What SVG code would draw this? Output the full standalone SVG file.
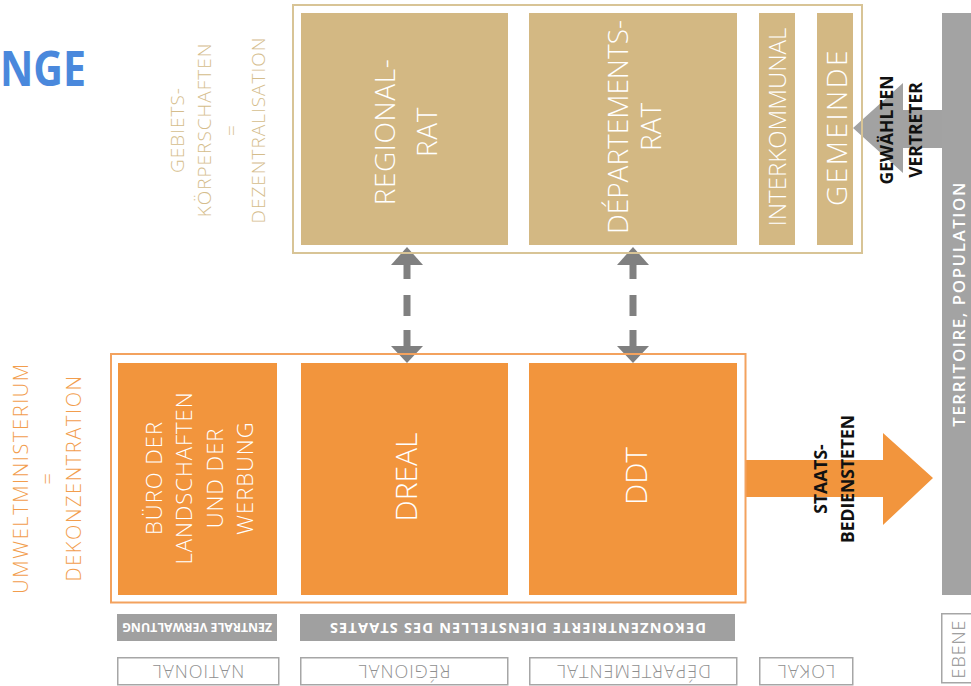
<svg xmlns="http://www.w3.org/2000/svg" width="971" height="686" viewBox="0 0 971 686">
<style>
text{font-family:"Open Sans","Liberation Sans",sans-serif}
.tan{fill:#d3b883}
.org{fill:#f2953d}
.lt{font-weight:300}
.wt{fill:#ffffff}
.bk{fill:#111111;font-weight:700;font-size:17.5px}
.gtxt{fill:#8f8f8f;font-weight:300;font-size:18px;letter-spacing:1px}
.gbox{fill:#ffffff;stroke:#a6a6a6;stroke-width:1.5}
.glab{fill:#a0a0a0}
.arr{fill:#808080}
</style>
<text x="0" y="86" font-size="48" font-weight="700" fill="#4a88dc" textLength="86" lengthAdjust="spacingAndGlyphs">NGE</text>

<g id="gebiets-label">
<text transform="translate(183.8,130) rotate(-90)" text-anchor="middle" font-size="19" letter-spacing="1" class="lt" fill="#d5bd8c"><tspan x="0" dy="0">GEBIETS-</tspan><tspan x="0" dy="27">KÖRPERSCHAFTEN</tspan><tspan x="0" dy="27">=</tspan><tspan x="0" dy="27">DEZENTRALISATION</tspan></text>
</g>
<g id="umwelt-label">
<text transform="translate(28,478) rotate(-90)" text-anchor="middle" font-size="20" letter-spacing="1.6" class="lt" fill="#f29d4d"><tspan x="0" dy="0">UMWELTMINISTERIUM</tspan><tspan x="0" dy="26.5">=</tspan><tspan x="0" dy="26.5">DEKONZENTRATION</tspan></text>
</g>

<g id="connectors">
<polygon points="853,128 903,83 903,110 942,110 942,148 903,148 903,173" fill="#a2a2a2"/>
<polygon points="745,460 883,460 883,433 933,478 883,525 883,497 745,497" class="org"/>
<g class="arr">
<polygon points="407,247 423,265 391,265"/>
<rect x="403.5" y="264" width="7" height="15"/>
<rect x="403.5" y="295" width="7" height="21"/>
<rect x="403.5" y="330" width="7" height="17"/>
<polygon points="407,363 423,346 391,346"/>
<polygon points="633,247 649,265 617,265"/>
<rect x="629.5" y="264" width="7" height="15"/>
<rect x="629.5" y="295" width="7" height="21"/>
<rect x="629.5" y="330" width="7" height="17"/>
<polygon points="633,363 649,346 617,346"/>
</g>
</g>

<g id="collectivites">
<rect x="293" y="5" width="569" height="248" fill="none" stroke="#d8c496" stroke-width="2"/>
</g>
<g id="regionalrat">
<rect x="301" y="13" width="207" height="232" class="tan"/>
<text transform="translate(395,132) rotate(-90)" text-anchor="middle" font-size="28" letter-spacing="0.6" class="lt wt"><tspan x="0" dy="0">REGIONAL-</tspan><tspan x="0" dy="42">RAT</tspan></text>
</g>
<g id="departementsrat">
<rect x="529" y="13" width="208" height="232" class="tan"/>
<text transform="translate(628,127) rotate(-90)" text-anchor="middle" font-size="28" class="lt wt"><tspan x="0" dy="0">DÉPARTEMENTS-</tspan><tspan x="0" dy="33">RAT</tspan></text>
</g>
<g id="interkommunal">
<rect x="759" y="13" width="36" height="232" class="tan"/>
<text transform="translate(785.6,127) rotate(-90)" text-anchor="middle" font-size="24" class="lt wt">INTERKOMMUNAL</text>
</g>
<g id="gemeinde">
<rect x="817" y="13" width="36" height="232" class="tan"/>
<text transform="translate(847,127) rotate(-90)" text-anchor="middle" font-size="28" letter-spacing="2.5" class="lt wt">GEMEINDE</text>
</g>
<g id="gewaehlten-label">
<text transform="translate(893,130) rotate(-90)" text-anchor="middle" class="bk"><tspan x="0" dy="0">GEWÄHLTEN</tspan><tspan x="0" dy="29">VERTRETER</tspan></text>
</g>

<g id="territoire">
<rect x="942" y="13" width="32" height="582" fill="#a3a3a3"/>
<text transform="translate(965,304) rotate(-90)" text-anchor="middle" font-size="17" font-weight="600" letter-spacing="1.5" class="wt">TERRITOIRE, POPULATION</text>
</g>

<g id="ministerium">
<rect x="111" y="354" width="634.5" height="248.5" fill="none" stroke="#f3a25e" stroke-width="2"/>
</g>
<g id="buero">
<rect x="118" y="363" width="159" height="232" class="org"/>
<text transform="translate(162,478) rotate(-90)" text-anchor="middle" font-size="22" letter-spacing="1" class="lt wt"><tspan x="0" dy="0">BÜRO DER</tspan><tspan x="0" dy="30.3">LANDSCHAFTEN</tspan><tspan x="0" dy="30.3">UND DER</tspan><tspan x="0" dy="30.3">WERBUNG</tspan></text>
</g>
<g id="dreal">
<rect x="301" y="363" width="207" height="232" class="org"/>
<text transform="translate(416.7,477) rotate(-90)" text-anchor="middle" font-size="30" class="lt wt">DREAL</text>
</g>
<g id="ddt">
<rect x="529" y="363" width="208" height="232" class="org"/>
<text transform="translate(646.7,476) rotate(-90)" text-anchor="middle" font-size="30" class="lt wt">DDT</text>
</g>
<g id="staats-label">
<text transform="translate(827,479) rotate(-90)" text-anchor="middle" class="bk"><tspan x="0" dy="0">STAATS-</tspan><tspan x="0" dy="27">BEDIENSTETEN</tspan></text>
</g>

<g id="zentrale">
<rect x="117" y="614" width="160" height="27" class="glab"/>
<text transform="translate(197,627.5) rotate(180)" y="4.6" text-anchor="middle" font-size="13" font-weight="700" textLength="150" lengthAdjust="spacingAndGlyphs" class="wt">ZENTRALE VERWALTUNG</text>
</g>
<g id="dekonz">
<rect x="300" y="614" width="435" height="27" class="glab"/>
<text transform="translate(518,627.5) rotate(180)" y="5" text-anchor="middle" font-size="14.5" font-weight="700" textLength="376" lengthAdjust="spacing" class="wt">DEKONZENTRIERTE DIENSTELLEN DES STAATES</text>
</g>

<g id="national">
<rect x="117.75" y="657.75" width="161" height="27" class="gbox"/>
<text transform="translate(198,671) rotate(180)" y="6.4" text-anchor="middle" class="gtxt">NATIONAL</text>
</g>
<g id="regional">
<rect x="300.75" y="657.75" width="207" height="27" class="gbox"/>
<text transform="translate(404,671) rotate(180)" y="6.4" text-anchor="middle" class="gtxt">RÉGIONAL</text>
</g>
<g id="departemental">
<rect x="529.75" y="657.75" width="207" height="27" class="gbox"/>
<text transform="translate(633.5,671) rotate(180)" y="6.4" text-anchor="middle" class="gtxt">DÉPARTEMENTAL</text>
</g>
<g id="lokal">
<rect x="759.75" y="657.75" width="93" height="27" class="gbox"/>
<text transform="translate(806,671) rotate(180)" y="6.4" text-anchor="middle" class="gtxt">LOKAL</text>
</g>
<g id="ebene">
<rect x="941.75" y="613.75" width="40" height="69" class="gbox"/>
<text transform="translate(965,649) rotate(-90)" text-anchor="middle" font-size="18" letter-spacing="3" class="gtxt">EBENE</text>
</g>
</svg>
